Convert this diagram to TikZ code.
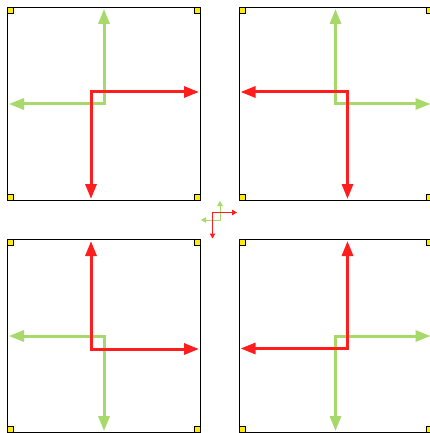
\documentclass[tikz,border=0pt]{standalone}
\usetikzlibrary{arrows.meta}
\definecolor{axred}{RGB}{255,30,30}
\definecolor{axgreen}{RGB}{166,217,106}
\definecolor{cornery}{RGB}{255,236,0}
\tikzset{
  panel/.style={draw=black, line width=0.8pt},
  marker/.style={fill=cornery, draw=black, line width=0.5pt},
  bigred/.style={draw=axred, line width=3pt, line join=miter, {Triangle[length=15pt,width=11pt]}-{Triangle[length=15pt,width=11pt]}},
  biggreen/.style={draw=axgreen, line width=3pt, line join=miter, {Triangle[length=15pt,width=11pt]}-{Triangle[length=15pt,width=11pt]}},
  smallred/.style={draw=axred, line width=1pt, line join=miter, {Triangle[length=5pt,width=5.5pt]}-{Triangle[length=5pt,width=5.5pt]}},
  smallgreen/.style={draw=axgreen, line width=1pt, line join=miter, {Triangle[length=5pt,width=5.5pt]}-{Triangle[length=5pt,width=5.5pt]}},
}
\begin{document}
\begin{tikzpicture}[x=1pt,y=-1pt]
\clip (0,0) rectangle (430,433);
\fill[white] (0,0) rectangle (430,433);
% panels
\foreach \x/\y in {7.5/7.5, 239/7.5, 7.5/239.5, 239/239.5}{
  \draw[panel] (\x,\y) rectangle ++(193,193);
  \filldraw[marker] (\x,\y) rectangle ++(6,6);
  \filldraw[marker] (\x+187,\y) rectangle ++(6,6);
  \filldraw[marker] (\x,\y+187) rectangle ++(6,6);
  \filldraw[marker] (\x+187,\y+187) rectangle ++(6,6);
}
% top-left
\coordinate (tlg) at (104,104);
\coordinate (tlgu) at (104,9);
\coordinate (tlgl) at (9,104);
\coordinate (tlr) at (91,92);
\coordinate (tlrr) at (199,92);
\coordinate (tlrd) at (91,199);
\draw[biggreen] (tlgu) -- (tlg) -- (tlgl);
\draw[bigred] (tlrr) -- (tlr) -- (tlrd);
% top-right
\coordinate (trg) at (335.5,104);
\coordinate (trgu) at (335.5,9);
\coordinate (trgr) at (430.5,104);
\coordinate (trr) at (347.5,92);
\coordinate (trrl) at (240.5,92);
\coordinate (trrd) at (347.5,199);
\draw[biggreen] (trgu) -- (trg) -- (trgr);
\draw[bigred] (trrl) -- (trr) -- (trrd);
% bottom-left
\coordinate (blg) at (104,336);
\coordinate (blgl) at (9,336);
\coordinate (blgd) at (104,431);
\coordinate (blr) at (91,349);
\coordinate (blru) at (91,241);
\coordinate (blrr) at (199,349);
\draw[biggreen] (blgl) -- (blg) -- (blgd);
\draw[bigred] (blru) -- (blr) -- (blrr);
% bottom-right
\coordinate (brg) at (335.5,336);
\coordinate (brgr) at (430.5,336);
\coordinate (brgd) at (335.5,431);
\coordinate (brr) at (347.5,348.5);
\coordinate (brru) at (347.5,241);
\coordinate (brrl) at (240.5,348.5);
\draw[biggreen] (brgr) -- (brg) -- (brgd);
\draw[bigred] (brru) -- (brr) -- (brrl);
% centre
\coordinate (cg) at (220,220);
\coordinate (cgu) at (220,201);
\coordinate (cgl) at (201,220);
\coordinate (cr) at (212.5,212.5);
\coordinate (crr) at (237,212.5);
\coordinate (crd) at (212.5,238.5);
\draw[smallgreen] (cgu) -- (cg) -- (cgl);
\draw[smallred] (crr) -- (cr) -- (crd);
\end{tikzpicture}
\end{document}
